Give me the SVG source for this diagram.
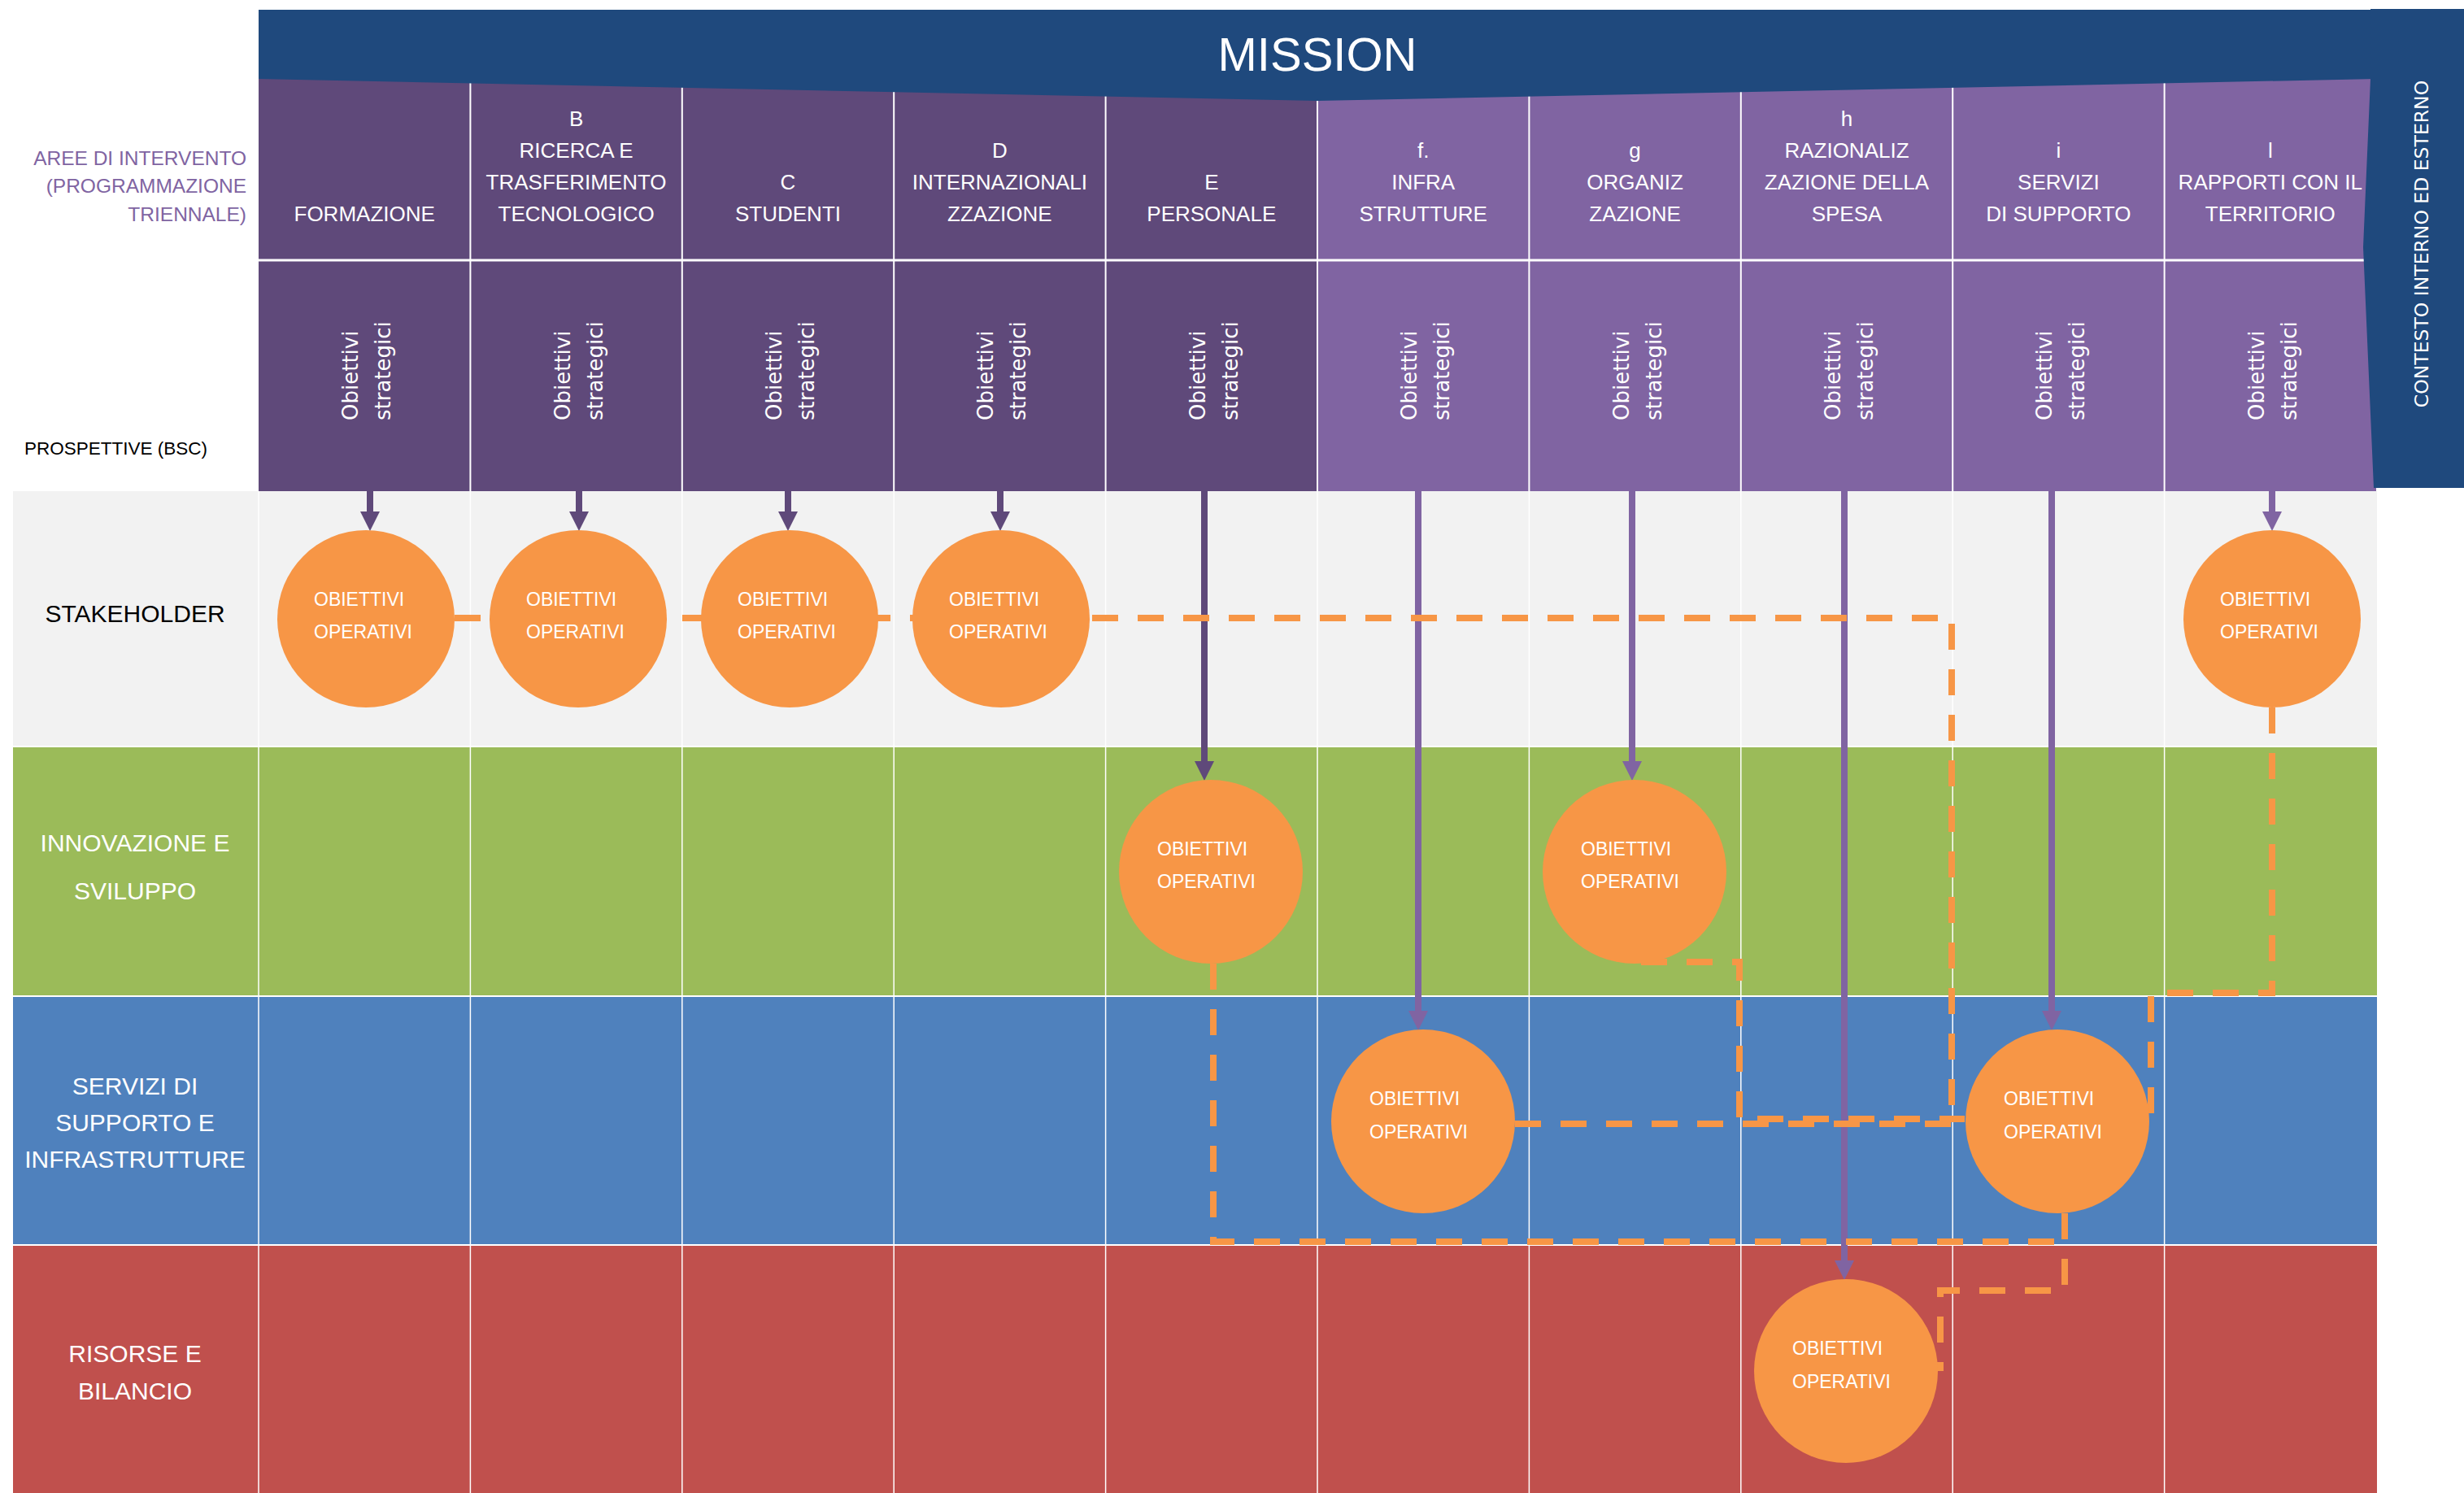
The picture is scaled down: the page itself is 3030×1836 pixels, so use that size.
<svg xmlns="http://www.w3.org/2000/svg" width="3030" height="1836" viewBox="0 0 3030 1836">
<defs>
<style>
.hd{font-family:"Liberation Sans",Arial,sans-serif;font-size:26px;fill:#fff;text-anchor:middle}
.os{font-family:"DejaVu Sans",Verdana,sans-serif;font-size:26px;fill:#fff}
.lane{font-family:"Liberation Sans",Arial,sans-serif;font-size:30px;fill:#fff;text-anchor:middle}
.ob{font-family:"Liberation Sans",Arial,sans-serif;font-size:23px;fill:#fff}
.circ{fill:#F79646}
.sep{stroke:#fff;stroke-width:2}
.lsep{stroke:#fff;stroke-width:1.5}
.dash{fill:none;stroke:#F79646;stroke-width:8;stroke-dasharray:32 24}
.ad{stroke:#5F497A;stroke-width:8}
.al{stroke:#8064A2;stroke-width:8}
.hdk{fill:#5F497A}
.hlt{fill:#8064A2}
</style>
</defs>
<rect width="3030" height="1836" fill="#fff"/>

<!-- lanes -->
<g id="lanes">
<rect x="16" y="604" width="2907" height="313" fill="#F2F2F2"/>
<rect x="16" y="919" width="2907" height="305" fill="#9BBB59"/>
<rect x="16" y="1226" width="2907" height="304" fill="#4F81BD"/>
<rect x="16" y="1532" width="2907" height="304" fill="#C0504D"/>
<g class="lsep">
<line x1="318" y1="604" x2="318" y2="1836"/>
<line x1="578.4" y1="604" x2="578.4" y2="1836"/>
<line x1="838.8" y1="604" x2="838.8" y2="1836"/>
<line x1="1099.2" y1="604" x2="1099.2" y2="1836"/>
<line x1="1359.6" y1="604" x2="1359.6" y2="1836"/>
<line x1="1620" y1="604" x2="1620" y2="1836"/>
<line x1="1880.4" y1="604" x2="1880.4" y2="1836"/>
<line x1="2140.8" y1="604" x2="2140.8" y2="1836"/>
<line x1="2401.2" y1="604" x2="2401.2" y2="1836"/>
<line x1="2661.6" y1="604" x2="2661.6" y2="1836"/>
</g>
</g>

<!-- header columns -->
<g id="header-cols">
<rect class="hdk" x="318" y="90" width="1302" height="514"/>
<rect class="hlt" x="1620" y="90" width="1302" height="514"/>
<g class="sep">
<line x1="578.4" y1="90" x2="578.4" y2="604"/>
<line x1="838.8" y1="90" x2="838.8" y2="604"/>
<line x1="1099.2" y1="90" x2="1099.2" y2="604"/>
<line x1="1359.6" y1="90" x2="1359.6" y2="604"/>
<line x1="1620" y1="90" x2="1620" y2="604"/>
<line x1="1880.4" y1="90" x2="1880.4" y2="604"/>
<line x1="2140.8" y1="90" x2="2140.8" y2="604"/>
<line x1="2401.2" y1="90" x2="2401.2" y2="604"/>
<line x1="2661.6" y1="90" x2="2661.6" y2="604"/>
<line x1="318" y1="320" x2="2922" y2="320" stroke-width="3"/>
</g>
</g>

<g id="mission">
<path d="M318,12 H2922 V97 L1620,124 L318,97 Z" fill="#1F497D"/>
<text x="1620" y="87" font-family="Liberation Sans, Arial, sans-serif" font-size="58" fill="#fff" text-anchor="middle">MISSION</text>
</g>

<g id="contesto">
<path d="M2915,11 H3030 V600 H2919 L2906,304 L2915,97 Z" fill="#1F497D"/>
<text transform="translate(2986,300) rotate(-90)" font-family="DejaVu Sans, Verdana, sans-serif" font-size="23.5" fill="#fff" text-anchor="middle">CONTESTO INTERNO ED ESTERNO</text>
</g>

<g id="label-aree" font-family="Liberation Sans, Arial, sans-serif" font-size="24.5" fill="#8064A2" text-anchor="end">
<text x="303" y="203">AREE DI INTERVENTO</text>
<text x="303" y="237">(PROGRAMMAZIONE</text>
<text x="303" y="272">TRIENNALE)</text>
</g>
<g id="label-prospettive">
<text x="30" y="559" font-family="Liberation Sans, Arial, sans-serif" font-size="22.5" fill="#000">PROSPETTIVE (BSC)</text>
</g>

<!-- header column texts -->
<g id="col-A"><text class="hd" x="448.2" y="272">FORMAZIONE</text>
<text class="os" transform="translate(440,517) rotate(-90)"><tspan x="0" y="0">Obiettivi</tspan><tspan x="0" y="40">strategici</tspan></text></g>
<g id="col-B"><text class="hd" x="708.6" y="155">B</text><text class="hd" x="708.6" y="194">RICERCA E</text><text class="hd" x="708.6" y="233">TRASFERIMENTO</text><text class="hd" x="708.6" y="272">TECNOLOGICO</text>
<text class="os" transform="translate(700.6,517) rotate(-90)"><tspan x="0" y="0">Obiettivi</tspan><tspan x="0" y="40">strategici</tspan></text></g>
<g id="col-C"><text class="hd" x="969" y="233">C</text><text class="hd" x="969" y="272">STUDENTI</text>
<text class="os" transform="translate(961,517) rotate(-90)"><tspan x="0" y="0">Obiettivi</tspan><tspan x="0" y="40">strategici</tspan></text></g>
<g id="col-D"><text class="hd" x="1229.4" y="194">D</text><text class="hd" x="1229.4" y="233">INTERNAZIONALI</text><text class="hd" x="1229.4" y="272">ZZAZIONE</text>
<text class="os" transform="translate(1221.4,517) rotate(-90)"><tspan x="0" y="0">Obiettivi</tspan><tspan x="0" y="40">strategici</tspan></text></g>
<g id="col-E"><text class="hd" x="1489.8" y="233">E</text><text class="hd" x="1489.8" y="272">PERSONALE</text>
<text class="os" transform="translate(1481.8,517) rotate(-90)"><tspan x="0" y="0">Obiettivi</tspan><tspan x="0" y="40">strategici</tspan></text></g>
<g id="col-f"><text class="hd" x="1750.2" y="194">f.</text><text class="hd" x="1750.2" y="233">INFRA</text><text class="hd" x="1750.2" y="272">STRUTTURE</text>
<text class="os" transform="translate(1742.2,517) rotate(-90)"><tspan x="0" y="0">Obiettivi</tspan><tspan x="0" y="40">strategici</tspan></text></g>
<g id="col-g"><text class="hd" x="2010.6" y="194">g</text><text class="hd" x="2010.6" y="233">ORGANIZ</text><text class="hd" x="2010.6" y="272">ZAZIONE</text>
<text class="os" transform="translate(2002.6,517) rotate(-90)"><tspan x="0" y="0">Obiettivi</tspan><tspan x="0" y="40">strategici</tspan></text></g>
<g id="col-h"><text class="hd" x="2271" y="155">h</text><text class="hd" x="2271" y="194">RAZIONALIZ</text><text class="hd" x="2271" y="233">ZAZIONE DELLA</text><text class="hd" x="2271" y="272">SPESA</text>
<text class="os" transform="translate(2263,517) rotate(-90)"><tspan x="0" y="0">Obiettivi</tspan><tspan x="0" y="40">strategici</tspan></text></g>
<g id="col-i"><text class="hd" x="2531.4" y="194">i</text><text class="hd" x="2531.4" y="233">SERVIZI</text><text class="hd" x="2531.4" y="272">DI SUPPORTO</text>
<text class="os" transform="translate(2523.4,517) rotate(-90)"><tspan x="0" y="0">Obiettivi</tspan><tspan x="0" y="40">strategici</tspan></text></g>
<g id="col-l"><text class="hd" x="2791.8" y="194">l</text><text class="hd" x="2791.8" y="233">RAPPORTI CON IL</text><text class="hd" x="2791.8" y="272">TERRITORIO</text>
<text class="os" transform="translate(2783.8,517) rotate(-90)"><tspan x="0" y="0">Obiettivi</tspan><tspan x="0" y="40">strategici</tspan></text></g>

<!-- lane labels -->
<g id="lane-stakeholder"><text x="166" y="765" font-family="Liberation Sans, Arial, sans-serif" font-size="30" fill="#000" text-anchor="middle">STAKEHOLDER</text></g>
<g id="lane-innovazione"><text class="lane" x="166" y="1047" font-size="32">INNOVAZIONE E</text><text class="lane" x="166" y="1106" font-size="32">SVILUPPO</text></g>
<g id="lane-servizi"><text class="lane" x="166" y="1346">SERVIZI DI</text><text class="lane" x="166" y="1391">SUPPORTO E</text><text class="lane" x="166" y="1436">INFRASTRUTTURE</text></g>
<g id="lane-risorse"><text class="lane" x="166" y="1675">RISORSE E</text><text class="lane" x="166" y="1721">BILANCIO</text></g>

<!-- connectors -->
<g id="connectors">
<g id="arrows">
<line class="ad" x1="455" y1="604" x2="455" y2="631"/><polygon fill="#5F497A" points="443,629 467,629 455,653"/>
<line class="ad" x1="712" y1="604" x2="712" y2="631"/><polygon fill="#5F497A" points="700,629 724,629 712,653"/>
<line class="ad" x1="969" y1="604" x2="969" y2="631"/><polygon fill="#5F497A" points="957,629 981,629 969,653"/>
<line class="ad" x1="1230" y1="604" x2="1230" y2="631"/><polygon fill="#5F497A" points="1218,629 1242,629 1230,653"/>
<line class="ad" x1="1481" y1="604" x2="1481" y2="938"/><polygon fill="#5F497A" points="1469,936 1493,936 1481,960"/>
<line class="al" x1="1744" y1="604" x2="1744" y2="1245"/><polygon fill="#8064A2" points="1732,1243 1756,1243 1744,1267"/>
<line class="al" x1="2007" y1="604" x2="2007" y2="938"/><polygon fill="#8064A2" points="1995,936 2019,936 2007,960"/>
<line class="al" x1="2268" y1="604" x2="2268" y2="1552"/><polygon fill="#8064A2" points="2256,1550 2280,1550 2268,1574"/>
<line class="al" x1="2523" y1="604" x2="2523" y2="1245"/><polygon fill="#8064A2" points="2511,1243 2535,1243 2523,1267"/>
<line class="al" x1="2794" y1="604" x2="2794" y2="631"/><polygon fill="#8064A2" points="2782,629 2806,629 2794,653"/>
</g>
<g id="dashed">
<path class="dash" d="M559,760 H2400 V1378"/>
<path class="dash" d="M2018,1183 H2139 V1376 H2416"/>
<path class="dash" d="M1863,1382 H2416"/>
<path class="dash" d="M1492,1185 V1527 H2540"/>
<path class="dash" d="M2539,1492 V1587 H2386 V1686"/>
<path class="dash" d="M2794,870 V1221 H2645 V1379"/>
</g>
</g>

<!-- operational objective nodes -->
<g id="op-A"><circle class="circ" cx="450" cy="761" r="109"/><text class="ob" x="386" y="745">OBIETTIVI</text><text class="ob" x="386" y="785">OPERATIVI</text></g>
<g id="op-B"><circle class="circ" cx="711" cy="761" r="109"/><text class="ob" x="647" y="745">OBIETTIVI</text><text class="ob" x="647" y="785">OPERATIVI</text></g>
<g id="op-C"><circle class="circ" cx="971" cy="761" r="109"/><text class="ob" x="907" y="745">OBIETTIVI</text><text class="ob" x="907" y="785">OPERATIVI</text></g>
<g id="op-D"><circle class="circ" cx="1231" cy="761" r="109"/><text class="ob" x="1167" y="745">OBIETTIVI</text><text class="ob" x="1167" y="785">OPERATIVI</text></g>
<g id="op-l"><circle class="circ" cx="2794" cy="761" r="109"/><text class="ob" x="2730" y="745">OBIETTIVI</text><text class="ob" x="2730" y="785">OPERATIVI</text></g>
<g id="op-E"><circle class="circ" cx="1489" cy="1072" r="113"/><text class="ob" x="1423" y="1052">OBIETTIVI</text><text class="ob" x="1423" y="1092">OPERATIVI</text></g>
<g id="op-g"><circle class="circ" cx="2010" cy="1072" r="113"/><text class="ob" x="1944" y="1052">OBIETTIVI</text><text class="ob" x="1944" y="1092">OPERATIVI</text></g>
<g id="op-f"><circle class="circ" cx="1750" cy="1379" r="113"/><text class="ob" x="1684" y="1359">OBIETTIVI</text><text class="ob" x="1684" y="1400">OPERATIVI</text></g>
<g id="op-i"><circle class="circ" cx="2530" cy="1379" r="113"/><text class="ob" x="2464" y="1359">OBIETTIVI</text><text class="ob" x="2464" y="1400">OPERATIVI</text></g>
<g id="op-h"><circle class="circ" cx="2270" cy="1686" r="113"/><text class="ob" x="2204" y="1666">OBIETTIVI</text><text class="ob" x="2204" y="1707">OPERATIVI</text></g>
</svg>
